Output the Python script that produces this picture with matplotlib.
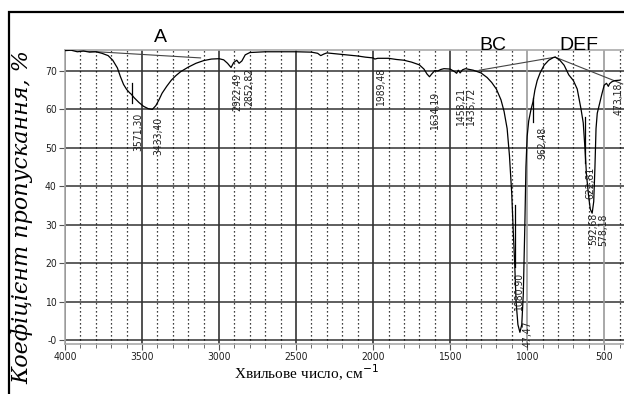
import matplotlib
matplotlib.use("Agg")
import matplotlib.pyplot as plt
from matplotlib.patches import Rectangle

# IR transmission spectrum (wavenumber, cm^-1 / transmittance, %)
wavenumber = [4000, 3960, 3920, 3880, 3840, 3800, 3760, 3720, 3690, 3660,
              3640, 3620, 3600, 3580, 3571, 3550, 3520, 3490, 3460, 3433,
              3410, 3390, 3370, 3340, 3310, 3280, 3250, 3200, 3150, 3100,
              3050, 3000, 2970, 2945, 2922, 2905, 2885, 2870, 2852, 2830,
              2800, 2700, 2600, 2500, 2400, 2360, 2340, 2320, 2300, 2250,
              2200, 2100, 2050, 2000, 1989, 1970, 1900, 1850, 1800, 1750,
              1700, 1670, 1650, 1634, 1620, 1600, 1580, 1560, 1540, 1500,
              1470, 1458, 1447, 1435, 1420, 1400, 1350, 1300, 1260, 1230,
              1200, 1170, 1150, 1130, 1115, 1100, 1090, 1081, 1072, 1060,
              1047, 1035, 1025, 1015, 1008, 1000, 990, 975, 962, 950,
              935, 916, 890, 860, 830, 818, 790, 760, 730, 700,
              675, 650, 636, 625, 615, 600, 590, 578, 568, 560,
              553, 545, 530, 515, 500, 485, 473, 465, 450, 430, 400]
transmittance = [75.3, 75.4, 75.0, 75.2, 74.9, 75.0, 74.6, 74.0, 72.8, 70.8,
                 68.5, 66.5, 65.2, 64.3, 64.0, 63.0, 61.8, 60.8, 60.2, 60.0,
                 61.0, 62.5, 64.2, 66.0, 67.6, 68.8, 69.8, 71.0, 72.0, 72.7,
                 73.1, 73.2, 72.9, 72.0, 70.9, 72.2, 72.8, 72.0, 72.6, 74.2,
                 74.8, 75.0, 75.0, 75.0, 74.9, 74.6, 74.0, 74.4, 74.7, 74.5,
                 74.3, 73.9, 73.6, 73.4, 73.1, 73.3, 73.3, 73.0, 72.8, 72.3,
                 71.6, 70.5, 69.2, 68.5, 69.2, 70.1, 70.0, 70.4, 70.6, 70.5,
                 69.8, 69.4, 70.2, 69.5, 70.3, 70.6, 70.2, 69.5, 68.3, 67.0,
                 65.3, 62.5, 59.5, 55.0, 48.0, 38.0, 28.0, 20.0, 10.0, 4.0,
                 2.0, 4.0, 12.0, 30.0, 45.0, 53.0, 57.0, 60.0, 62.0, 65.0,
                 67.5, 69.5, 71.5, 72.8, 73.5, 73.6, 72.9, 71.5, 69.0, 67.5,
                 65.3, 60.0, 56.5, 50.0, 43.0, 37.0, 34.0, 33.0, 36.0, 45.0,
                 55.0, 59.0, 61.5, 64.0, 66.3, 66.8, 66.0, 66.7, 67.2, 67.5, 67.6]

# peak labels
peak_text = ["3571,30", "3433,40", "2922,49", "2852,82", "1989,48", "1634,19",
             "1458,21", "1435,72", "1080,90", "47,47", "962,48", "622,81",
             "592,68", "578,18", "473,18"]
# where each label sits (x of its centre, y of its top)
label_x = [3526, 3396, 2883, 2805, 1948, 1597, 1428, 1364, 1052, 1000,
           903, 591, 568, 505, 409]
label_top = [59.1, 58.0, 69.5, 70.8, 70.8, 64.5, 65.6, 65.6, 17.4, 5.2,
             55.4, 45.0, 33.0, 33.0, 66.9]

# baselines drawn under the bands A, BC, DEF
base_a_wn = [4000, 3120]
base_a_t = [75.5, 73.4]
base_bc_wn = [1310, 818]
base_bc_t = [70.2, 73.6]
base_def_wn = [818, 380]
base_def_t = [73.6, 66.6]

fig = plt.figure(figsize=(6.24, 3.94), dpi=100)
ax = fig.add_axes([65 / 624, 50 / 394, 570 / 624, 294 / 394])
ax.set_xlim(4000, 300)
ax.set_ylim(-1.04, 75.46)

# grid
for v in range(0, 80, 10):
    ax.axhline(v, color="#333333", lw=1.1, zorder=1)
for w in range(400, 4001, 100):
    if w % 500 == 0:
        c = "#999999" if w in (500, 1000) else "#333333"
        ax.axvline(w, color=c, lw=1.2, zorder=1)
    else:
        ax.axvline(w, color="black", lw=0.9, ls=(0, (1, 2.2)), zorder=1)

ax.plot(wavenumber, transmittance, color="black", lw=0.9, zorder=3)
for bw, bt in [(base_a_wn, base_a_t), (base_bc_wn, base_bc_t), (base_def_wn, base_def_t)]:
    ax.plot(bw, bt, color="#444444", lw=0.8, zorder=2)

for x, txt, top in zip(label_x, peak_text, label_top):
    ax.text(x, top, txt, rotation=90, ha="center", va="top",
            fontsize=7.5, family="DejaVu Sans", fontstretch="condensed",
            color="#222222", zorder=4)

# short marker strokes below a few peaks
for wn, y0, y1 in [(3565, 61.7, 66.9), (962.48, 56.7, 63.0), (1080.9, 19.0, 35.0), (622.81, 46.0, 58.0)]:
    ax.plot([wn, wn], [y0, y1], color="black", lw=0.9, zorder=3)

for txt, wn, t in [("A", 3383, 78.6), ("BC", 1220, 76.6), ("DEF", 665, 76.6)]:
    ax.text(wn, t, txt, ha="center", va="center", fontsize=14,
            family="Liberation Sans", clip_on=False)

ax.set_xticks(range(500, 4001, 500))
ax.set_xticks(range(400, 4001, 100), minor=True)
ax.set_yticks(range(0, 80, 10))
ax.set_yticklabels(["-0", "10", "20", "30", "40", "50", "60", "70"])
ax.tick_params(axis="both", which="major", length=4, color="#555555",
               labelsize=7.5, labelcolor="#222222", pad=2)
ax.tick_params(axis="x", which="minor", length=3, color="#555555")
for lab in ax.get_xticklabels() + ax.get_yticklabels():
    lab.set_family("DejaVu Sans")
    lab.set_fontstretch("condensed")
for s in ax.spines.values():
    s.set_color("#aaaaaa")
    s.set_linewidth(1.2)

fig.text(22 / 624, 1 - 217 / 394, "Коефіцієнт пропускання, %", rotation=90,
         ha="center", va="center", fontsize=16, style="italic", family="DejaVu Serif")
fig.text(307 / 624, 1 - 373 / 394, "Хвильове число, см$^{-1}$",
         ha="center", va="center", fontsize=11, family="Liberation Serif")

# outer frame
fig.add_artist(Rectangle((9 / 624, -0.2), 1.2, 1.2 - 12 / 394, transform=fig.transFigure,
                         fill=False, edgecolor="black", lw=1.6))

fig.savefig("out.png", dpi=100)
